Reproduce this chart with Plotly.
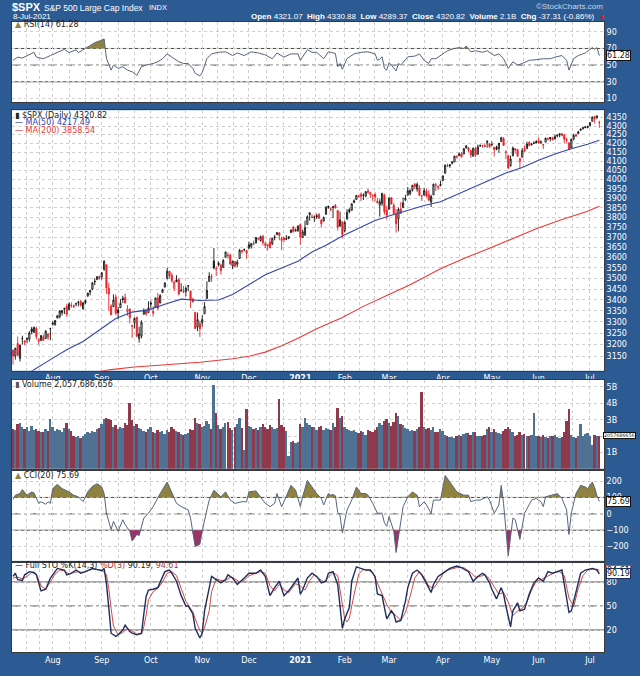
import math
import pandas as pd
import plotly.graph_objects as go

# ---------------- calendar ----------------
HOLIDAYS = ["2020-09-07", "2020-11-26", "2020-12-25", "2021-01-01", "2021-01-18",
            "2021-02-15", "2021-04-02", "2021-05-31", "2021-07-05"]
SESSIONS = pd.bdate_range("2020-07-09", "2021-07-08")
SESSIONS = SESSIONS[~SESSIONS.isin(pd.to_datetime(HOLIDAYS))]

# ---------------- data (read / estimated from the chart) ----------------
PREV_CLOSE = 3169.94
CLOSE = [3152.05, 3185.04, 3155.22, 3197.52, 3226.56, 3215.57, 3224.73, 3251.84, 3257.30, 3276.02,
         3235.66, 3215.63, 3239.41, 3218.44, 3258.44, 3246.22, 3271.12, 3294.61, 3306.51, 3327.77,
         3349.16, 3351.28, 3360.47, 3333.69, 3380.35, 3373.43, 3372.85, 3381.99, 3389.78, 3374.85,
         3385.51, 3397.16, 3431.28, 3443.62, 3478.73, 3484.55, 3508.01, 3500.31, 3526.65, 3580.84,
         3455.06, 3426.96, 3331.84, 3398.96, 3339.19, 3340.97, 3383.54, 3401.20, 3385.49, 3357.01,
         3319.47, 3281.06, 3315.57, 3236.92, 3246.59, 3298.46, 3351.60, 3335.47, 3363.00, 3380.80,
         3348.42, 3408.60, 3360.97, 3419.44, 3446.83, 3477.14, 3534.22, 3511.93, 3488.67, 3483.34,
         3483.81, 3426.92, 3443.12, 3435.56, 3453.49, 3465.39, 3400.97, 3390.68, 3271.03, 3310.11,
         3269.96, 3310.24, 3369.16, 3443.44, 3510.45, 3509.44, 3550.50, 3545.53, 3572.66, 3537.01,
         3585.15, 3626.91, 3609.53, 3567.79, 3581.87, 3557.54, 3577.59, 3635.41, 3629.65, 3638.35,
         3621.63, 3662.45, 3669.01, 3666.72, 3699.12, 3691.96, 3702.25, 3672.82, 3668.10, 3663.46,
         3647.49, 3694.62, 3701.17, 3722.48, 3709.41, 3694.92, 3687.26, 3690.01, 3703.06, 3735.36,
         3727.04, 3732.04, 3756.07, 3700.65, 3726.86, 3748.14, 3803.79, 3824.68, 3799.61, 3801.19,
         3809.84, 3795.54, 3768.25, 3798.91, 3851.85, 3853.07, 3841.47, 3855.36, 3849.62, 3750.77,
         3787.38, 3714.24, 3773.86, 3826.31, 3830.17, 3871.74, 3886.83, 3915.59, 3911.23, 3909.88,
         3916.38, 3934.83, 3932.59, 3931.33, 3913.97, 3906.71, 3876.50, 3881.37, 3925.43, 3829.34,
         3811.15, 3901.82, 3870.29, 3819.72, 3768.47, 3841.94, 3821.35, 3875.44, 3898.81, 3939.34,
         3943.34, 3968.94, 3962.71, 3974.12, 3915.46, 3913.10, 3940.59, 3910.52, 3889.14, 3909.52,
         3974.54, 3971.09, 3958.55, 3972.89, 4019.87, 4077.91, 4073.94, 4079.95, 4097.17, 4128.80,
         4127.99, 4141.59, 4124.66, 4170.42, 4185.47, 4163.26, 4134.94, 4173.42, 4134.98, 4180.17,
         4187.62, 4186.72, 4183.18, 4211.47, 4181.17, 4192.66, 4164.66, 4167.59, 4201.62, 4232.60,
         4188.43, 4152.10, 4063.04, 4112.50, 4173.85, 4163.29, 4127.83, 4115.68, 4159.12, 4155.86,
         4197.05, 4188.13, 4195.99, 4200.88, 4204.11, 4202.04, 4208.12, 4192.85, 4229.89, 4226.52,
         4227.26, 4219.55, 4239.18, 4247.44, 4255.15, 4246.59, 4223.70, 4221.86, 4166.45, 4224.79,
         4246.44, 4241.84, 4266.49, 4280.70, 4290.61, 4291.80, 4297.50, 4319.94, 4352.34, 4343.54,
         4358.13, 4320.82]
OPEN = [3176, 3152, 3205, 3141, 3226, 3209, 3225, 3224, 3269, 3254, 3271, 3219, 3219, 3234, 3227, 3231,
        3270, 3289, 3289, 3317, 3323, 3341, 3357, 3371, 3355, 3373, 3368, 3381, 3388, 3392, 3360, 3386,
        3418, 3436, 3449, 3486, 3494, 3509, 3508, 3543, 3565, 3453, 3371, 3369, 3413, 3353, 3364, 3407,
        3411, 3347, 3357, 3285, 3296, 3321, 3226, 3237, 3334, 3350, 3342, 3385, 3339, 3367, 3409, 3385,
        3434, 3459, 3500, 3534, 3515, 3453, 3493, 3494, 3440, 3439, 3439, 3464, 3441, 3403, 3343, 3277,
        3293, 3296, 3336, 3406, 3485, 3509, 3583, 3544, 3564, 3563, 3552, 3601, 3611, 3612, 3559, 3580,
        3567, 3595, 3635, 3638, 3634, 3645, 3654, 3669, 3671, 3694, 3683, 3705, 3659, 3656, 3676, 3667,
        3697, 3713, 3722, 3684, 3698, 3693, 3694, 3723, 3751, 3736, 3734, 3764, 3698, 3712, 3764, 3815,
        3803, 3801, 3802, 3815, 3788, 3781, 3816, 3857, 3844, 3851, 3863, 3836, 3755, 3778, 3732, 3791,
        3840, 3837, 3878, 3893, 3910, 3921, 3917, 3911, 3939, 3918, 3915, 3921, 3885, 3865, 3874, 3916,
        3839, 3842, 3903, 3864, 3818, 3793, 3844, 3851, 3892, 3916, 3925, 3943, 3974, 3949, 3953, 3913,
        3917, 3937, 3920, 3880, 3918, 3969, 3963, 3967, 3993, 4034, 4075, 4074, 4089, 4096, 4124, 4131,
        4141, 4140, 4175, 4176, 4160, 4128, 4171, 4139, 4185, 4188, 4186, 4206, 4198, 4191, 4179, 4178,
        4170, 4211, 4228, 4150, 4131, 4075, 4130, 4170, 4165, 4098, 4122, 4168, 4170, 4205, 4192, 4201,
        4210, 4216, 4207, 4191, 4207, 4229, 4234, 4233, 4228, 4243, 4248, 4255, 4249, 4217, 4204, 4174,
        4225, 4249, 4256, 4275, 4284, 4294, 4290, 4301, 4327, 4356, 4351, 4321.07]
HIGH = [3179, 3186, 3235, 3200, 3239, 3220, 3233, 3259, 3278, 3279, 3279, 3228, 3242, 3244, 3264, 3251,
        3272, 3303, 3307, 3331, 3352, 3353, 3364, 3382, 3388, 3388, 3378, 3387, 3395, 3399, 3390, 3399,
        3432, 3444, 3481, 3501, 3510, 3514, 3528, 3588, 3565, 3479, 3380, 3425, 3425, 3368, 3403, 3419,
        3429, 3376, 3362, 3285, 3320, 3323, 3279, 3307, 3361, 3358, 3393, 3397, 3370, 3409, 3432, 3426,
        3451, 3482, 3550, 3534, 3527, 3489, 3515, 3502, 3477, 3464, 3461, 3466, 3441, 3409, 3343, 3342,
        3305, 3330, 3389, 3486, 3529, 3521, 3646, 3558, 3581, 3570, 3593, 3628, 3624, 3619, 3585, 3582,
        3589, 3642, 3635, 3644, 3634, 3678, 3670, 3683, 3699, 3698, 3708, 3712, 3678, 3665, 3698, 3695,
        3711, 3726, 3726, 3703, 3698, 3711, 3703, 3740, 3756, 3744, 3760, 3770, 3738, 3784, 3811, 3826,
        3818, 3811, 3820, 3823, 3788, 3805, 3860, 3862, 3852, 3860, 3870, 3836, 3830, 3778, 3784, 3843,
        3848, 3872, 3894, 3916, 3918, 3931, 3925, 3937, 3950, 3933, 3921, 3931, 3902, 3895, 3929, 3925,
        3861, 3904, 3907, 3874, 3844, 3851, 3881, 3904, 3918, 3960, 3944, 3971, 3982, 3984, 3970, 3919,
        3956, 3950, 3943, 3919, 3978, 3982, 3968, 3994, 4021, 4083, 4087, 4084, 4098, 4129, 4131, 4148,
        4151, 4173, 4191, 4180, 4164, 4175, 4179, 4194, 4194, 4193, 4201, 4218, 4199, 4210, 4180, 4187,
        4202, 4238, 4236, 4162, 4135, 4131, 4183, 4172, 4170, 4117, 4173, 4188, 4210, 4213, 4203, 4213,
        4219, 4234, 4217, 4196, 4233, 4233, 4236, 4238, 4249, 4249, 4255, 4258, 4252, 4233, 4204, 4226,
        4256, 4256, 4272, 4286, 4292, 4300, 4302, 4321, 4355, 4357, 4362, 4330.88]
LOW = [3115, 3136, 3149, 3128, 3200, 3198, 3206, 3213, 3245, 3250, 3223, 3201, 3215, 3217, 3225, 3220,
       3220, 3285, 3282, 3317, 3316, 3329, 3335, 3323, 3354, 3364, 3362, 3371, 3370, 3369, 3354, 3380,
       3414, 3421, 3445, 3468, 3495, 3494, 3494, 3536, 3427, 3350, 3330, 3369, 3330, 3311, 3364, 3385,
       3384, 3328, 3293, 3230, 3271, 3233, 3209, 3228, 3334, 3327, 3341, 3362, 3324, 3367, 3354, 3385,
       3434, 3458, 3495, 3500, 3480, 3441, 3484, 3420, 3440, 3433, 3416, 3440, 3364, 3388, 3268, 3259,
       3234, 3279, 3336, 3405, 3485, 3484, 3543, 3511, 3557, 3518, 3552, 3601, 3594, 3568, 3544, 3556,
       3553, 3595, 3618, 3630, 3594, 3645, 3644, 3660, 3670, 3684, 3679, 3660, 3646, 3634, 3645, 3660,
       3685, 3712, 3685, 3636, 3676, 3689, 3690, 3723, 3724, 3731, 3726, 3663, 3696, 3706, 3764, 3784,
       3797, 3777, 3792, 3795, 3750, 3781, 3816, 3845, 3831, 3797, 3847, 3733, 3755, 3694, 3725, 3791,
       3822, 3837, 3875, 3893, 3902, 3885, 3891, 3906, 3923, 3901, 3885, 3884, 3874, 3805, 3860, 3815,
       3789, 3842, 3868, 3819, 3723, 3730, 3819, 3851, 3885, 3916, 3915, 3936, 3950, 3935, 3913, 3885,
       3917, 3905, 3889, 3854, 3918, 3939, 3944, 3964, 3993, 4034, 4069, 4064, 4082, 4096, 4114, 4129,
       4121, 4140, 4171, 4150, 4119, 4126, 4124, 4139, 4182, 4176, 4181, 4176, 4175, 4188, 4127, 4161,
       4147, 4209, 4188, 4112, 4057, 4070, 4130, 4143, 4127, 4062, 4122, 4152, 4170, 4183, 4189, 4198,
       4203, 4198, 4198, 4168, 4207, 4216, 4211, 4219, 4220, 4234, 4235, 4240, 4203, 4204, 4165, 4174,
       4217, 4239, 4256, 4272, 4280, 4287, 4288, 4301, 4327, 4314, 4340, 4289.37]
VOLUME_B = [2.45, 2.40, 2.75, 2.85, 2.55, 2.45, 2.60, 2.35, 2.65, 2.40, 2.45, 2.35, 2.25, 2.30, 2.45, 2.35, 3.05,
            2.55, 2.35, 2.45, 2.40, 2.30, 2.50, 2.85, 2.45, 2.35, 2.05, 1.95, 2.05, 1.90, 2.00, 2.15, 2.25,
            2.20, 2.35, 2.30, 2.45, 2.50,
            2.75, 3.05, 3.15, 3.05, 3.00, 2.60, 2.70, 2.45, 2.55, 2.50, 2.85, 2.70, 4.05, 3.00, 2.65, 2.75,
            2.50, 2.45, 2.35, 2.30, 2.45,
            2.55, 2.25, 2.20, 2.40, 2.30, 2.35, 2.15, 2.40, 2.30, 2.55, 2.45, 2.35, 2.25, 2.15, 2.10, 2.15,
            2.20, 2.45, 2.40, 3.15, 2.85, 2.75,
            2.55, 2.65, 2.95, 2.75, 2.45, 5.15, 3.45, 2.70, 2.45, 2.55, 2.80, 2.90, 2.50, 2.40, 2.55, 2.75,
            3.10, 2.50, 1.20, 3.65,
            2.65, 2.55, 2.45, 2.50, 2.40, 2.55, 2.75, 2.60, 2.45, 2.70, 2.55, 2.45, 2.50, 4.30, 2.70, 2.55,
            2.35, 0.80, 1.65, 1.70, 1.60, 1.65,
            2.75, 2.55, 3.15, 2.85, 2.70, 2.55, 2.60, 2.40, 2.55, 2.65, 2.40, 2.50, 2.45, 2.40, 2.80, 2.55,
            3.75, 3.10, 3.25,
            2.55, 2.45, 2.40, 2.35, 2.40, 2.30, 2.20, 2.35, 2.25, 2.10, 2.40, 2.35, 2.25, 2.40, 2.60, 2.85,
            2.70, 2.95, 3.05,
            2.80, 2.65, 2.90, 3.45, 3.25, 2.75, 2.70, 2.50, 2.45, 2.35, 2.40, 2.35, 2.45, 2.55, 4.70, 2.55,
            2.45, 2.50, 2.40, 2.60, 2.30, 2.25, 2.45,
            2.35, 2.10, 2.05, 1.95, 1.95, 1.90, 2.00, 2.10, 2.05, 2.15, 2.20, 2.20, 2.10, 2.30, 2.25, 2.05,
            2.00, 2.05, 2.10, 2.45, 2.55,
            2.30, 2.45, 2.25, 2.20, 2.15, 2.35, 2.45, 2.55, 2.45, 2.30, 2.05, 2.10, 2.30, 2.10, 2.15, 2.00,
            2.05, 2.10, 3.45, 2.05,
            2.05, 1.95, 2.10, 1.95, 1.90, 2.00, 2.05, 2.10, 1.95, 1.90, 1.95, 2.25, 2.95, 3.65, 2.10, 1.95,
            1.90, 2.00, 2.75, 2.05, 2.15, 2.20,
            2.05, 1.50, 2.10, 2.00, 2.057686656]

MA50_S = [0, 9, 16, 23, 30, 37, 44, 51, 58, 65, 72, 80, 88, 94, 101, 108, 115, 122, 128, 134, 141, 148,
          155, 162, 169, 176, 183, 190, 197, 204, 211, 218, 225, 232, 239, 246, 251]
MA50_V = [3040, 3095, 3136, 3178, 3214, 3264, 3315, 3344, 3354, 3380, 3403, 3397, 3399, 3425, 3471, 3517,
          3549, 3582, 3627, 3660, 3706, 3745, 3785, 3812, 3838, 3862, 3882, 3920, 3955, 3995, 4035, 4065,
          4105, 4140, 4170, 4195, 4217.49]
MA200_S = [30, 42, 52, 65, 80, 94, 101, 108, 115, 122, 130, 141, 150, 160, 170, 183, 194, 204, 214, 224,
           235, 246, 251]
MA200_V = [3075, 3094, 3105, 3115, 3125, 3140, 3150, 3168, 3195, 3228, 3270, 3320, 3370, 3420, 3470, 3546,
           3600, 3645, 3695, 3743, 3790, 3832, 3858.54]

RSI_S = [0, 2, 4, 9, 10, 13, 16, 19, 22, 24, 27, 28, 31, 33, 35, 37, 39, 40, 41, 42, 43, 45, 47, 49, 51,
         53, 55, 57, 60, 62, 64, 66, 68, 71, 73, 75, 77, 78, 80, 81, 83, 85, 88, 91, 94, 96, 99, 102, 105,
         108, 111, 113, 116, 119, 122, 123, 126, 128, 130, 133, 135, 138, 139, 140, 141, 142, 143, 146,
         149, 152, 155, 156, 157, 158, 159, 160, 161, 162, 163, 164, 165, 166, 169, 172, 174, 176, 178,
         179, 181, 184, 186, 189, 191, 193, 194, 196, 198, 201, 203, 206, 208, 210, 212, 214, 216, 218,
         221, 224, 227, 230, 232, 235, 237, 238, 240, 242, 245, 247, 248, 249, 250, 251]
RSI_V = [55.8, 59.6, 58.5, 65.4, 59.6, 57.7, 61.5, 65.4, 69, 65, 68.5, 65, 70, 73, 77, 79, 81.5, 58, 52,
         44, 50, 46, 48, 44, 42, 37.7, 48, 50, 52, 54, 57.7, 63.5, 59.6, 54, 52, 52, 46, 40, 37, 41, 57.7,
         63.5, 65.4, 66, 61.5, 64.6, 61.5, 66, 64.6, 62.3, 57.7, 64.6, 59.6, 63.5, 63.5, 55.8, 68.5, 65.4,
         65.4, 57.7, 66, 64, 48, 52, 45, 52, 58, 63.5, 65.4, 66, 63.5, 56, 57, 60, 46, 44, 53, 50, 47, 43,
         52, 50, 60, 60.8, 63.5, 55.8, 52, 57.7, 57.7, 63.5, 67.3, 70, 71, 70, 73, 66, 67.3, 65.4, 67.3,
         61.5, 63.5, 57.7, 46, 54, 50, 52, 55.8, 56.5, 57.7, 57.7, 59.6, 61.5, 55.8, 44, 57.7, 61.5, 64.6,
         69, 71, 69, 71, 61.28]

CCI_S = [0, 1, 3, 4, 6, 8, 9, 11, 12, 14, 15, 16, 17, 19, 21, 24, 26, 28, 30, 32, 34, 36, 38, 39, 40, 42,
         43, 45, 47, 48, 50, 51, 53, 54, 56, 58, 60, 61, 63, 66, 68, 70, 72, 75, 76, 77, 78, 80, 81, 83,
         84, 86, 88, 89, 91, 93, 95, 98, 100, 101, 104, 106, 108, 110, 112, 113, 115, 116, 119, 121, 123,
         124, 126, 128, 130, 132, 133, 135, 136, 137, 138, 139, 140, 141, 143, 145, 147, 149, 151, 152,
         154, 156, 158, 159, 160, 161, 163, 164, 166, 167, 169, 171, 173, 174, 176, 177, 179, 180, 183,
         185, 187, 190, 193, 195, 196, 198, 200, 203, 204, 206, 208, 209, 210, 211, 212, 214, 215, 217,
         219, 222, 224, 226, 227, 228, 231, 233, 235, 237, 238, 239, 241, 243, 245, 246, 248, 249, 250, 251]
CCI_V = [88, 114, 124, 148, 114, 134, 128, 64, 74, 58, 74, 64, 154, 180, 154, 134, 114, 104, 74, 134, 168,
         184, 164, 124, 4, -96, -46, -106, -36, -66, -106, -166, -126, -132, -26, 4, 44, 74, 124, 194, 134,
         64, 44, 24, -26, -126, -200, -186, -106, 24, 84, 144, 114, 104, 134, 84, 64, 74, 74, 134, 140, 104,
         64, 44, 64, 124, 44, 74, 174, 144, 44, 104, 204, 164, 124, 94, 54, 124, 114, 118, 110, 10, -10,
         -116, 24, 84, 164, 124, 124, 114, 64, 4, 4, -56, -76, -16, -106, -236, -46, 44, 104, 134, 114, 44,
         74, 54, 4, 84, 84, 234, 194, 134, 114, 114, 74, 84, 84, 104, 84, 4, 54, 174, 64, -76, -256, -26,
         -36, -156, 4, 84, 94, 74, 44, 104, 114, 124, 94, 24, -126, 4, 124, 174, 164, 154, 194, 160, 110,
         75.69]

STOK_S = [0, 1, 2, 4, 5, 7, 9, 10, 12, 14, 16, 18, 19, 22, 23, 25, 27, 29, 31, 34, 37, 38, 39, 40, 41, 42,
          44, 45, 47, 48, 50, 51, 53, 55, 56, 57, 58, 60, 62, 64, 65, 67, 68, 70, 72, 74, 75, 77, 78, 80, 81,
          82, 84, 85, 87, 89, 91, 92, 94, 96, 99, 101, 104, 106, 108, 110, 112, 114, 116, 118, 121, 122, 123,
          124, 126, 128, 130, 132, 134, 135, 137, 139, 141, 142, 144, 145, 147, 149, 151, 153, 155, 156, 158,
          159, 160, 162, 163, 164, 166, 168, 169, 171, 173, 175, 177, 179, 180, 182, 185, 187, 190, 192, 195,
          197, 199, 201, 202, 204, 205, 207, 209, 210, 211, 213, 214, 216, 217, 219, 221, 223, 225, 227, 229,
          231, 233, 235, 236, 238, 239, 241, 243, 245, 248, 250, 251]
STOK_V = [87, 91, 83, 82, 89, 93, 92, 89, 69, 71, 85, 93, 97, 95, 89, 91, 95, 91, 93, 97, 95, 94, 97, 78, 48,
          16, 12, 14, 20, 26, 18, 16, 14, 16, 40, 62, 70, 71, 73, 85, 93, 95, 91, 81, 63, 50, 50, 40, 22, 10,
          16, 44, 73, 87, 83, 79, 83, 89, 85, 77, 85, 91, 91, 95, 87, 63, 73, 81, 63, 69, 81, 85, 65, 70, 85,
          91, 87, 79, 81, 91, 93, 77, 22, 34, 48, 81, 99, 97, 95, 95, 87, 65, 63, 48, 34, 44, 40, 30, 32, 56,
          73, 91, 95, 89, 77, 67, 77, 87, 93, 97, 100, 98, 93, 81, 87, 91, 89, 79, 71, 59, 73, 65, 50, 24, 44,
          54, 44, 46, 65, 79, 85, 81, 93, 91, 93, 95, 77, 42, 44, 69, 91, 95, 97, 95, 90.19]
STOD_S = [0, 2, 4, 6, 8, 10, 12, 14, 16, 18, 20, 22, 24, 26, 28, 30, 32, 34, 36, 38, 40, 41, 42, 43, 45, 47,
          49, 51, 53, 55, 56, 57, 58, 60, 62, 64, 66, 68, 70, 72, 74, 76, 77, 78, 80, 81, 82, 84, 85, 87, 89,
          91, 93, 95, 97, 99, 101, 104, 106, 108, 110, 112, 114, 116, 118, 121, 123, 125, 127, 129, 131, 133,
          135, 137, 139, 141, 142, 143, 144, 146, 148, 150, 152, 154, 156, 158, 160, 162, 164, 166, 168, 170,
          172, 174, 176, 178, 180, 182, 184, 186, 190, 193, 196, 198, 200, 202, 204, 206, 208, 210, 212, 214,
          216, 218, 220, 222, 224, 226, 228, 230, 232, 234, 236, 238, 240, 242, 244, 246, 248, 250, 251]
STOD_V = [85, 86, 84, 87, 92, 90, 75, 71, 80, 90, 95, 94, 90, 92, 93, 92, 94, 96, 96, 95, 89, 72, 47, 25, 14,
          17, 22, 18, 15, 15, 24, 39, 58, 68, 72, 80, 91, 93, 88, 72, 56, 47, 43, 34, 19, 16, 23, 44, 68, 84,
          82, 82, 86, 84, 80, 82, 88, 91, 93, 91, 75, 69, 77, 70, 67, 78, 75, 70, 82, 89, 84, 80, 86, 92, 88,
          50, 34, 30, 35, 64, 90, 96, 95, 92, 78, 66, 52, 42, 38, 32, 42, 62, 85, 93, 86, 75, 72, 80, 90, 95,
          98, 98, 92, 86, 87, 89, 84, 74, 65, 67, 55, 38, 44, 47, 55, 70, 81, 83, 86, 90, 92, 93, 88, 60, 49,
          72, 88, 95, 96, 96, 94.61]

PRICE_TICKS = list(range(3150, 4351, 50))
RSI_TICKS = [10, 30, 50, 70, 90]
CCI_TICKS = [-200, -100, 0, 100, 200]
STO_TICKS = [20, 50, 80]
VOL_TICKS_B = [1, 2, 3, 4, 5]

# ---------------- styling / layout constants ----------------
W, H = 640, 676
ML, MR, MT, MB = 12, 32, 22, 11
PH = H - MT - MB
PW = W - ML - MR
BG = "#2c5a92"
FONT = "DejaVu Sans"
HFONT = "Liberation Sans"
GRID = "#cfcfcf"
REF = "#4d4d45"
OLIVE = "#8f8240"
PURPLE = "#9c3266"
UPVOL = "#4f7193"
DNVOL = "#8e3a4c"
RED = "#e8242c"


def dom(top, bottom):
    return [(H - MB - bottom) / PH, (H - MB - top) / PH]


def px(x):
    return (x - ML) / PW


def py(y):
    return (H - MB - y) / PH


def clip_fill(xs, ys, thr, above):
    ox, oy = [], []
    for i in range(len(xs)):
        if i:
            x0, y0, x1, y1 = xs[i - 1], ys[i - 1], xs[i], ys[i]
            if (y0 - thr) * (y1 - thr) < 0:
                t = (thr - y0) / (y1 - y0)
                ox.append(x0 + t * (x1 - x0))
                oy.append(thr)
        ox.append(xs[i])
        oy.append(max(ys[i], thr) if above else min(ys[i], thr))
    return ox, oy


n = len(CLOSE)
idx = list(range(n))
prev = [PREV_CLOSE] + CLOSE[:-1]
up = [i for i in idx if CLOSE[i] >= prev[i]]
dn = [i for i in idx if CLOSE[i] < prev[i]]

fig = go.Figure()

# ---- RSI ----
fx, fy = clip_fill(RSI_S, RSI_V, 70, True)
fig.add_trace(go.Scatter(x=fx, y=[70] * len(fx), mode="lines", line=dict(width=0),
                         xaxis="x", yaxis="y", hoverinfo="skip", showlegend=False))
fig.add_trace(go.Scatter(x=fx, y=fy, mode="lines", line=dict(width=0), fill="tonexty",
                         fillcolor=OLIVE, xaxis="x", yaxis="y", hoverinfo="skip", showlegend=False))
fig.add_trace(go.Scatter(x=RSI_S, y=RSI_V, mode="lines", line=dict(color="#56647e", width=1),
                         xaxis="x", yaxis="y", showlegend=False))

# ---- price ----
for ids, col in [(up, "#111111"), (dn, RED)]:
    fig.add_trace(go.Candlestick(
        x=ids, open=[OPEN[i] for i in ids], high=[HIGH[i] for i in ids],
        low=[LOW[i] for i in ids], close=[CLOSE[i] for i in ids],
        increasing=dict(line=dict(color=col, width=0.9), fillcolor="white"),
        decreasing=dict(line=dict(color=col, width=0.9), fillcolor=col),
        whiskerwidth=0, xaxis="x2", yaxis="y2", showlegend=False, hoverinfo="skip"))
fig.add_trace(go.Scatter(x=MA50_S, y=MA50_V, mode="lines", line=dict(color="#3444a8", width=1.1),
                         xaxis="x2", yaxis="y2", showlegend=False))
fig.add_trace(go.Scatter(x=MA200_S, y=MA200_V, mode="lines", line=dict(color="#ec3838", width=1.1),
                         xaxis="x2", yaxis="y2", showlegend=False))

# ---- volume ----
fig.add_trace(go.Bar(x=idx, y=[v * 1e9 for v in VOLUME_B],
                     marker=dict(color=[UPVOL if CLOSE[i] >= prev[i] else DNVOL for i in idx], line=dict(width=0)),
                     width=0.78, xaxis="x3", yaxis="y3", showlegend=False, hoverinfo="skip"))

# ---- CCI ----
for thr, above, col in [(100, True, OLIVE), (-100, False, PURPLE)]:
    fx, fy = clip_fill(CCI_S, CCI_V, thr, above)
    fig.add_trace(go.Scatter(x=fx, y=[thr] * len(fx), mode="lines", line=dict(width=0),
                             xaxis="x4", yaxis="y4", hoverinfo="skip", showlegend=False))
    fig.add_trace(go.Scatter(x=fx, y=fy, mode="lines", line=dict(width=0), fill="tonexty",
                             fillcolor=col, xaxis="x4", yaxis="y4", hoverinfo="skip", showlegend=False))
fig.add_trace(go.Scatter(x=CCI_S, y=CCI_V, mode="lines", line=dict(color="#56647e", width=1),
                         xaxis="x4", yaxis="y4", showlegend=False))

# ---- STO ----
fig.add_trace(go.Scatter(x=STOD_S, y=STOD_V, mode="lines", line=dict(color="#d04848", width=1),
                         xaxis="x5", yaxis="y5", showlegend=False))
fig.add_trace(go.Scatter(x=STOK_S, y=STOK_V, mode="lines", line=dict(color="#1f2d5c", width=1.4),
                         xaxis="x5", yaxis="y5", showlegend=False))

# ---------------- axes ----------------
month_idx, month_txt = [], []
for i in range(1, n):
    if SESSIONS[i].month != SESSIONS[i - 1].month:
        month_idx.append(i)
        month_txt.append("<b>%d</b>" % SESSIONS[i].year if SESSIONS[i].month == 1 else SESSIONS[i].strftime("%b"))
minor_grid = []
starts = [0] + month_idx + [n + 21]
for a, b in zip(starts[:-1], starts[1:]):
    step = (b - a) / 3
    minor_grid += [a + step, a + 2 * step]
minor_grid = [g for g in minor_grid if g < n + 1]

XR = [-0.43, 253.0]
common_x = dict(range=XR, tickmode="array", tickvals=month_idx, ticktext=month_txt, showgrid=True,
                gridcolor=GRID, griddash="dot", gridwidth=1, showline=True, mirror=True, linecolor="#3a3a3a",
                linewidth=1, ticks="", zeroline=False, fixedrange=True,
                tickfont=dict(family=FONT, size=8, color="white"),
                minor=dict(tickmode="array", tickvals=minor_grid, showgrid=True, gridcolor=GRID, griddash="dot"))
common_y = dict(side="right", showgrid=True, gridcolor=GRID, griddash="dot", gridwidth=1, showline=True,
                mirror=True, linecolor="#3a3a3a", linewidth=1, ticks="", zeroline=False, fixedrange=True,
                tickfont=dict(family=FONT, size=8, color="white"), tickmode="array")

layout = dict(width=W, height=H, margin=dict(l=ML, r=MR, t=MT, b=MB), paper_bgcolor=BG, plot_bgcolor="white",
              showlegend=False, bargap=0)
domains = [dom(22, 104), dom(112, 378), dom(387, 478), dom(480, 572), dom(574, 665)]
for k in range(1, 6):
    xs = "" if k == 1 else str(k)
    xa = dict(common_x, anchor="y" + xs, showticklabels=(k in (2, 5)))
    if k != 5:
        xa["matches"] = "x5"
    layout["xaxis" + xs] = xa
    layout["yaxis" + xs] = dict(common_y, anchor="x" + xs, domain=domains[k - 1])
layout["xaxis2"]["rangeslider"] = dict(visible=False)
layout["yaxis"].update(range=[5.3, 101.8], tickvals=RSI_TICKS)
layout["yaxis2"].update(type="log", range=[math.log10(3089), math.log10(4393)], tickvals=PRICE_TICKS,
                        ticktext=[str(v) for v in PRICE_TICKS])
layout["yaxis3"].update(range=[0, 5.45e9], tickvals=[v * 1e9 for v in VOL_TICKS_B],
                        ticktext=["%dB" % v for v in VOL_TICKS_B])
layout["yaxis4"].update(range=[-287, 263], tickvals=CCI_TICKS)
layout["yaxis5"].update(range=[-7.5, 104], tickvals=STO_TICKS)
fig.update_layout(**layout)

# reference lines
shapes = []
for yref, xr, lines in [("y", "x", [(70, "solid"), (50, "dashdot"), (30, "solid")]),
                        ("y4", "x4", [(100, "solid"), (0, "dashdot"), (-100, "solid")]),
                        ("y5", "x5", [(80, "solid"), (50, "dashdot"), (20, "solid")])]:
    for val, dash in lines:
        shapes.append(dict(type="line", xref=xr + " domain", x0=0, x1=1, yref=yref, y0=val, y1=val,
                           line=dict(color=REF, width=1, dash=dash), layer="below"))
fig.update_layout(shapes=shapes)

# ---------------- text ----------------
ann = []


def A(text, x, y, size=8, color="white", xanchor="left", family=FONT):
    ann.append(dict(text=text, x=px(x), y=py(y), xref="paper", yref="paper", xanchor=xanchor, yanchor="middle",
                    showarrow=False, font=dict(family=family, size=size, color=color)))


A("<b>$SPX</b>", 10, 7, size=11, family=HFONT)
A("S&P 500 Large Cap Index", 42, 7.5, size=8.5, family=HFONT)
A("INDX", 148, 7.5, size=7.5, family=HFONT)
A("8-Jul-2021", 11, 16.5, size=8, family=HFONT)
A("©StockCharts.com", 609, 6, size=8, color="#c9d6ea", xanchor="right", family=HFONT)
A("<b>Open</b> 4321.07  <b>High</b> 4330.88  <b>Low</b> 4289.37  <b>Close</b> 4320.82  "
  "<b>Volume</b> 2.1B  <b>Chg</b> -37.31 (-0.86%)", 601, 16, size=8, xanchor="right", family=HFONT)
A("▼", 602, 16.5, size=6, color="#e02020")

# panel legends
A("<span style='color:%s'>▲</span> RSI(14) 61.28" % OLIVE, 13, 25, color="#222")
A("▮ $SPX (Daily) 4320.82", 13, 117, color="#222")
A("— MA(50) 4217.49", 13, 125, color="#3444a8")
A("— MA(200) 3858.54", 13, 133, color="#ec3838")
A("<span style='color:#555'>▮</span> Volume 2,057,686,656", 13, 392, color="#222")
A("<span style='color:%s'>▲</span> CCI(20) 75.69" % OLIVE, 13, 485, color="#222")
A("<span style='color:#1f2d5c'>—</span> Full STO %K(14,3) <span style='color:#b03030'>%D(3)</span> 90.19, "
  "<span style='color:#b03030'>94.61</span>", 13, 577, color="#222")


def tag(text, yref, yval, border="#111", color="#111", size=8, shift=2):
    ann.append(dict(text=text, x=1, xref="paper", xanchor="left", y=yval, yref=yref, yanchor="middle",
                    showarrow=False, bgcolor="white", bordercolor=border, borderwidth=1, borderpad=0,
                    xshift=shift, font=dict(family=FONT, size=size, color=color)))


tag("61.28", "y", 61.28)
tag("4320.82", "y2", 4320.82)
tag("4217.49", "y2", 4217.49, border="#3444a8", color="#3444a8")
tag("3858.54", "y2", 3858.54, border="#ec3838")
tag("2057686656", "y3", 2.057686656e9, size=4.8, shift=-1)
tag("75.69", "y4", 75.69)
tag("94.61", "y5", 94.61, border="#d04848")
tag("90.19", "y5", 90.19, border="#1f2d5c")
fig.update_layout(annotations=ann)

fig.write_html("out.html")
